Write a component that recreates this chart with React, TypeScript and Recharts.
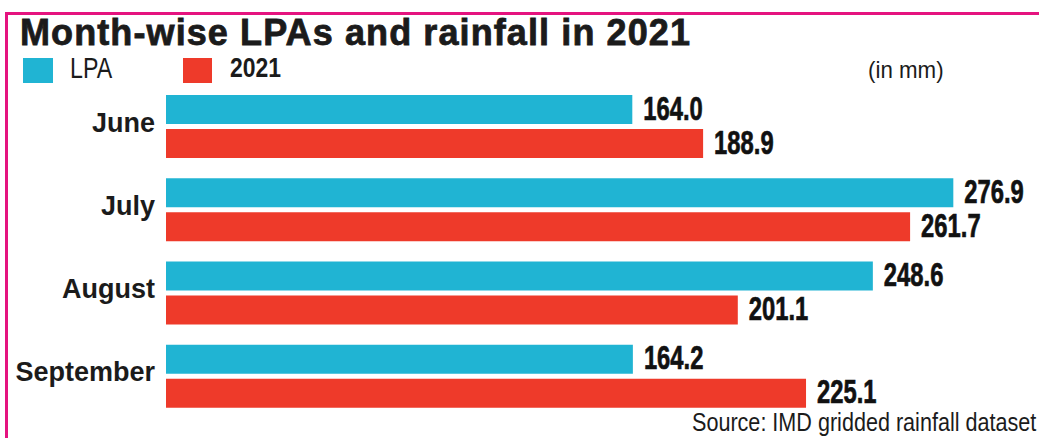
import { BarChart, Bar, XAxis, YAxis, LabelList } from "recharts"

const MONTHS = ["June", "July", "August", "September"]
const LPA = [164.0, 276.9, 248.6, 164.2]
const RAIN_2021 = [188.9, 261.7, 201.1, 225.1]

const data = MONTHS.map((month, i) => ({
    month,
    lpa: LPA[i],
    y2021: RAIN_2021[i],
}))

const CYAN = "#20b4d3"
const RED = "#ee3a2a"
const PINK = "#e5137f"
const INK = "#1b1b1b"
const FONT = "Liberation Sans, Arial, sans-serif"

const MonthTick = (props: any) => {
    const { x, y, payload } = props
    return (
        <text x={x} y={y} dy={5} textAnchor="end" fill={INK} fontFamily={FONT} fontWeight="bold" fontSize={27}>
            {payload.value}
        </text>
    )
}

// condensed bold value next to each bar
const ValueLabel = (props: any) => {
    const { x, y, width, height, value } = props
    const tx = x + width + 11
    const ty = y + height / 2 + 10
    return (
        <text
            transform={`translate(${tx},${ty}) scale(0.7,1)`}
            fill="#111"
            stroke="#111"
            strokeWidth={0.7}
            fontFamily={FONT}
            fontWeight="bold"
            fontSize={34}
        >
            {Number(value).toFixed(1)}
        </text>
    )
}

const narrow = (scale: number): React.CSSProperties => ({
    transform: `scaleX(${scale})`,
    transformOrigin: "left top",
    whiteSpace: "nowrap",
})

export default function App() {
    return (
        <div
            style={{
                position: "absolute",
                left: 0,
                top: 0,
                width: 1039,
                height: 438,
                background: "#fff",
                overflow: "hidden",
                fontFamily: FONT,
                color: INK,
            }}
        >
            <div
                style={{
                    position: "absolute",
                    left: 5,
                    top: 12,
                    width: 1100,
                    height: 500,
                    borderTop: `3px solid ${PINK}`,
                    borderLeft: `3px solid ${PINK}`,
                }}
            />
            <div
                style={{
                    position: "absolute",
                    left: 20,
                    top: 12,
                    fontSize: 36,
                    fontWeight: 900,
                    letterSpacing: 1.1,
                    whiteSpace: "nowrap",
                    WebkitTextStroke: "0.8px " + INK,
                }}
            >
                Month-wise LPAs and rainfall in 2021
            </div>
            <div style={{ position: "absolute", left: 23, top: 58, width: 30, height: 25, background: CYAN }} />
            <div style={{ position: "absolute", left: 70, top: 52, fontSize: 29, ...narrow(0.8) }}>LPA</div>
            <div style={{ position: "absolute", left: 183, top: 58, width: 29, height: 25, background: RED }} />
            <div style={{ position: "absolute", left: 230, top: 53, fontSize: 27, fontWeight: "bold", ...narrow(0.85) }}>
                2021
            </div>
            <div style={{ position: "absolute", left: 868, top: 56, fontSize: 24, ...narrow(0.93) }}>(in mm)</div>
            <div style={{ position: "absolute", left: 692, top: 407, fontSize: 26, ...narrow(0.83) }}>
                Source: IMD gridded rainfall dataset
            </div>
            <div style={{ position: "absolute", left: 0, top: 0 }}>
                <BarChart
                    width={1039}
                    height={438}
                    data={data}
                    layout="vertical"
                    margin={{ top: 85, right: 20, bottom: 20, left: 0 }}
                    barSize={29}
                    barGap={5}
                >
                    <XAxis type="number" domain={[0, 300]} hide />
                    <YAxis
                        type="category"
                        dataKey="month"
                        width={166}
                        axisLine={false}
                        tickLine={false}
                        tickMargin={5}
                        tick={<MonthTick />}
                    />
                    <Bar dataKey="lpa" fill={CYAN} isAnimationActive={false}>
                        <LabelList dataKey="lpa" content={<ValueLabel />} />
                    </Bar>
                    <Bar dataKey="y2021" fill={RED} isAnimationActive={false}>
                        <LabelList dataKey="y2021" content={<ValueLabel />} />
                    </Bar>
                </BarChart>
            </div>
        </div>
    )
}
